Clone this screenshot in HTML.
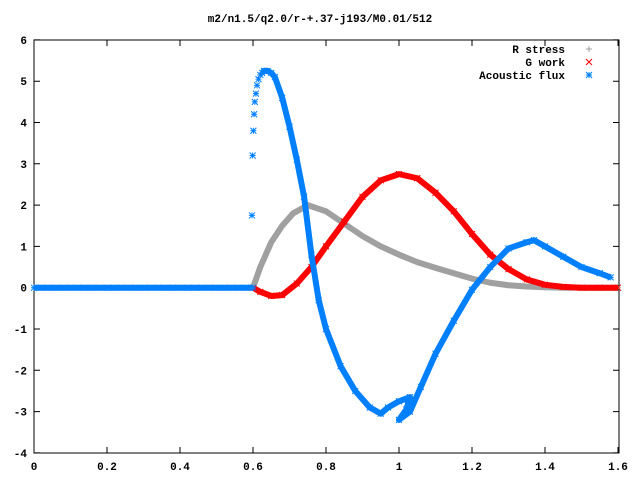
<!DOCTYPE html>
<html><head><meta charset="utf-8"><style>
body{margin:0;background:#fff}
svg text{font-family:"Liberation Mono",monospace;font-size:11px;font-weight:bold;fill:#000}
</style></head><body>
<svg id="chart" width="640" height="480" xmlns="http://www.w3.org/2000/svg">
<text x="320" y="22" text-anchor="middle">m2/n1.5/q2.0/r-+.37-j193/M0.01/512</text>
<g id="axes"></g>
<g id="series"></g>
<g id="legend"></g>
</svg>
<script>
const xTicks=[0,0.2,0.4,0.6,0.8,1,1.2,1.4,1.6];
const xTickLabels=["0","0.2","0.4","0.6","0.8","1","1.2","1.4","1.6"];
const yTicks=[-4,-3,-2,-1,0,1,2,3,4,5,6];
const zeroX=[0,0.02,0.04,0.06,0.08,0.1,0.12,0.14,0.16,0.18,0.2,0.22,0.24,0.26,0.28,0.3,0.32,0.34,0.36,0.38,0.4,0.42,0.44,0.46,0.48,0.5,0.52,0.54,0.56,0.58,0.6];
const rX=[0.6,0.62,0.65,0.68,0.71,0.75,0.8,0.85,0.9,0.95,1.0,1.05,1.1,1.15,1.2,1.25,1.3,1.35,1.4,1.45,1.5,1.55,1.6];
const rY=[0,0.5,1.1,1.5,1.8,2.0,1.85,1.55,1.25,1.0,0.8,0.62,0.48,0.35,0.22,0.12,0.06,0.03,0.01,0,0,0,0];
const gX=[0.6,0.62,0.65,0.68,0.72,0.76,0.8,0.85,0.9,0.95,1.0,1.05,1.1,1.15,1.2,1.25,1.3,1.35,1.4,1.45,1.5,1.55,1.6];
const gY=[0,-0.1,-0.2,-0.18,0.1,0.5,1.0,1.6,2.2,2.6,2.75,2.65,2.3,1.85,1.3,0.8,0.45,0.2,0.07,0.02,0,0,0];
const aSparseX=[0.597,0.599,0.601,0.603,0.605,0.608,0.611,0.615,0.62];
const aSparseY=[1.75,3.2,3.8,4.2,4.5,4.7,4.9,5.05,5.15];
const aX=[0.625,0.63,0.64,0.65,0.66,0.68,0.70,0.72,0.74,0.76,0.78,0.80,0.84,0.88,0.92,0.95,0.97,1.0,1.03,1.02,1.0,1.03,1.06,1.1,1.15,1.2,1.25,1.3,1.35,1.37,1.4,1.45,1.5,1.55,1.58];
const aY=[5.2,5.25,5.25,5.2,5.1,4.6,3.9,3.1,2.2,0.8,-0.3,-1.0,-1.9,-2.5,-2.9,-3.05,-2.9,-2.75,-2.65,-2.95,-3.2,-3.0,-2.4,-1.6,-0.8,-0.05,0.5,0.95,1.1,1.15,1.0,0.75,0.5,0.35,0.25];
const X0=34,XS=365,Y0=287.7,YS=41.3,R=619,T=40,B=453;
const sx=v=>X0+v*XS, sy=v=>Y0-v*YS;
const NS="http://www.w3.org/2000/svg";
function mk(tag,attrs,parent){const e=document.createElementNS(NS,tag);for(const k in attrs)e.setAttribute(k,attrs[k]);parent.appendChild(e);return e;}
const axes=document.getElementById('axes');
const frame=mk('rect',{x:X0,y:T,width:R-X0,height:B-T,fill:'none',stroke:'#000','stroke-width':1},axes);


xTicks.forEach((v,i)=>{const x=sx(v);
 const t=mk('path',{d:`M${x},${B}v-6M${x},${T}v6`,stroke:'#000'},axes);
 
 
 const l=mk('text',{x:x,y:B+17,'text-anchor':'middle'},axes);l.textContent=xTickLabels[i];
 
 });
yTicks.forEach(v=>{const y=sy(v);
 const t=mk('path',{d:`M${X0},${y}h6M${R},${y}h-6`,stroke:'#000'},axes);
 
 
 const l=mk('text',{x:X0-7,y:y+4,'text-anchor':'end'},axes);l.textContent=String(v);
 
 });
const ser=document.getElementById('series');
function marker(type,x,y,c,g){
 let d;
 if(type==='plus')d=`M${x-3},${y}h6M${x},${y-3}v6`;
 else if(type==='x')d=`M${x-3},${y-3}l6,6M${x-3},${y+3}l6,-6`;
 else d=`M${x-3},${y}h6M${x},${y-3}v6M${x-3},${y-3}l6,6M${x-3},${y+3}l6,-6`;
 const m=mk('path',{d:d,stroke:c,'stroke-width':1,fill:'none'},g);
 
 }
function series(name,xs,ys,c,type,line){
 const g=mk('g',{},ser);
 
 
 if(line){
 const pts=xs.map((v,i)=>sx(v)+','+sy(ys[i])).join(' ');
 const pl=mk('polyline',{points:pts,fill:'none',stroke:c,'stroke-width':6,'stroke-linejoin':'round'},g);
 
 }
 xs.forEach((v,i)=>marker(type,sx(v),sy(ys[i]),c,g));}
series('r-stress-series',rX,rY,'#a0a0a0','plus',true);
series('g-work-series',gX,gY,'#ff0000','x',true);
series('zero-flux-series',zeroX,zeroX.map(()=>0),'#0080ff','star',true);
series('acoustic-flux-sparse',aSparseX,aSparseY,'#0080ff','star',false);
series('acoustic-flux-series',aX,aY,'#0080ff','star',true);
const lg=document.getElementById('legend');
[["R stress",'#a0a0a0','plus'],["G work",'#ff0000','x'],["Acoustic flux",'#0080ff','star']].forEach((e,i)=>{
 const y=49+i*13;
 const t=mk('text',{x:565,y:y+4,'text-anchor':'end'},lg);t.textContent=e[0];
 
 
 marker(e[2],589,y,e[1],lg);});
</script>
</body></html>
